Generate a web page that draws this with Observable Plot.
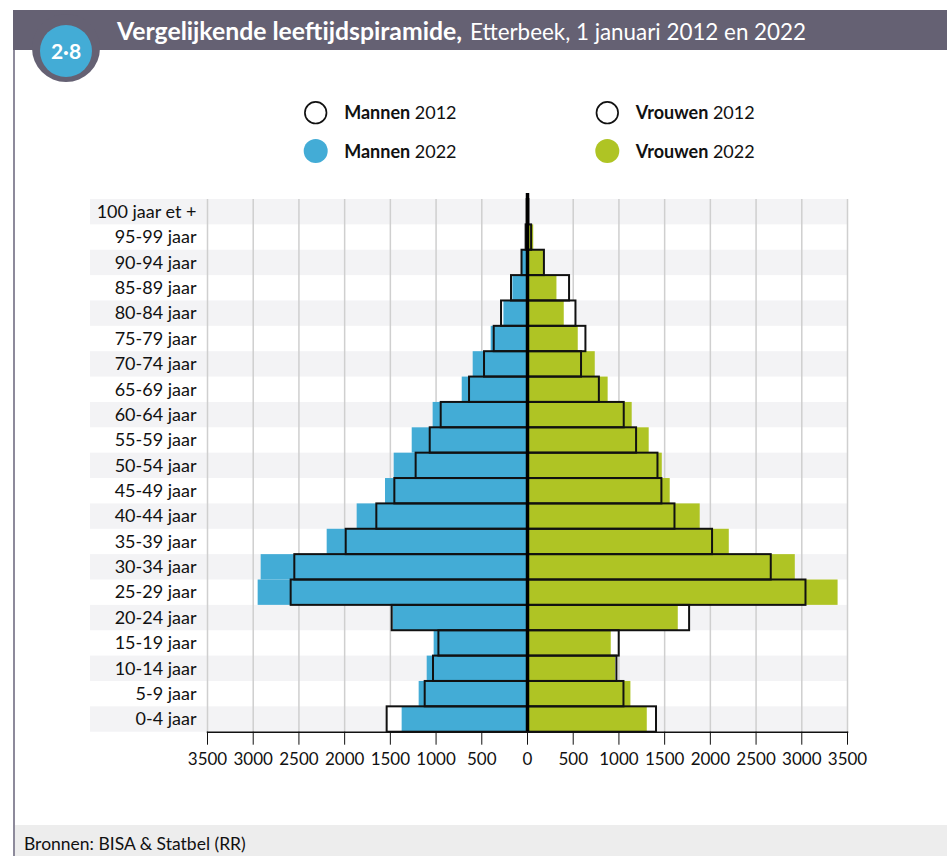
<!DOCTYPE html>
<html>
<head>
<meta charset="utf-8">
<script src="https://cdn.jsdelivr.net/npm/d3@7"></script>
<script src="https://cdn.jsdelivr.net/npm/@observablehq/plot@0.6"></script>
<style>
  html, body { margin: 0; padding: 0; background: #fff; }
  body { width: 947px; height: 856px; overflow: hidden; position: relative; font-family: Lato, "Open Sans", sans-serif; color: #111; }
  #top { position: absolute; left: 0; top: 0; }
  #leftline { position: absolute; left: 13px; top: 10px; width: 2px; height: 846px; background: #8d8a9b; }
  #chart { position: absolute; left: 0; top: 185px; }
  #footer { position: absolute; left: 15px; top: 825px; width: 932px; height: 31px; background: #ededed; }
  #source { position: absolute; left: 24px; top: 833px; font-size: 17.5px; color: #111; white-space: nowrap; }
</style>
</head>
<body>
<div id="leftline"></div>
<svg id="top" width="947" height="180" xmlns="http://www.w3.org/2000/svg">
  <rect x="13" y="10" width="934" height="40" fill="#656173"></rect>
  <circle cx="66" cy="48" r="34" fill="#656173"></circle>
  <circle cx="66" cy="51" r="26" fill="#43acd6"></circle>
  <text x="66" y="58.5" text-anchor="middle" fill="#fff" font-family="Lato, sans-serif" font-weight="700" font-size="21">2·8</text>
  <text x="117" y="39.5" fill="#fff" font-family="Lato, sans-serif" font-weight="700" font-size="24" textLength="345" lengthAdjust="spacingAndGlyphs">Vergelijkende leeftijdspiramide,</text>
  <text x="470" y="39.5" fill="#fff" font-family="Lato, sans-serif" font-weight="400" font-size="24" textLength="336" lengthAdjust="spacingAndGlyphs">Etterbeek, 1 januari 2012 en 2022</text>
  <g id="legend" font-family="Lato, sans-serif" font-size="18" fill="#111"></g>
</svg>
<div id="chart"></div>
<div id="footer"></div>
<div id="source">Bronnen: BISA &amp; Statbel (RR)</div>
<script>
// ---- data ----
const ages = ["100 jaar et +","95-99 jaar","90-94 jaar","85-89 jaar","80-84 jaar","75-79 jaar","70-74 jaar","65-69 jaar","60-64 jaar","55-59 jaar","50-54 jaar","45-49 jaar","40-44 jaar","35-39 jaar","30-34 jaar","25-29 jaar","20-24 jaar","15-19 jaar","10-14 jaar","5-9 jaar","0-4 jaar"];
const men2012   = [3, 15, 60, 175, 284, 364, 470, 634, 944, 1064, 1218, 1451, 1648, 1983, 2545, 2585, 1480, 969, 1028, 1119, 1535];
const men2022   = [3, 15, 55, 160, 258, 397, 594, 714, 1032, 1261, 1458, 1553, 1863, 2191, 2913, 2946, 1470, 1021, 1097, 1185, 1371];
const women2012 = [15, 45, 185, 460, 530, 639, 591, 786, 1058, 1193, 1427, 1470, 1613, 2024, 2666, 3046, 1773, 1003, 978, 1055, 1411];
const women2022 = [15, 68, 175, 322, 402, 555, 741, 882, 1145, 1331, 1474, 1561, 1889, 2207, 2929, 3397, 1649, 916, 963, 1131, 1310];
const xTicks = [-3500,-3000,-2500,-2000,-1500,-1000,-500,0,500,1000,1500,2000,2500,3000,3500];
const legendItems = [
  {name: "Mannen", year: "2012", col: 0, row: 0},
  {name: "Mannen", year: "2022", col: 0, row: 1},
  {name: "Vrouwen", year: "2012", col: 1, row: 0},
  {name: "Vrouwen", year: "2022", col: 1, row: 1}
];

const BLUE = "#43acd6", GREEN = "#afc424";

const rows = ages.map((age, i) => ({
  age,
  m12: -men2012[i], m22: -men2022[i],
  w12: women2012[i], w22: women2022[i]
}));
const stripes = ages.filter((d, i) => i % 2 === 0);
const xMin = xTicks[0], xMax = xTicks[xTicks.length - 1];

// ---- legend ----
const lg = d3.select("#legend");
legendItems.forEach(d => {
  const cx = d.col === 0 ? 315.7 : 607.3;
  const cy = d.row === 0 ? 112.7 : 151;
  const fill = d.year === "2012" ? "#fff" : (d.name === "Mannen" ? BLUE : GREEN);
  lg.append("circle").attr("cx", cx).attr("cy", cy).attr("r", d.year === "2012" ? 10.8 : 12)
    .attr("fill", fill).attr("stroke", d.year === "2012" ? "#111" : "none").attr("stroke-width", 1.7);
  const t = lg.append("text").attr("x", cx + 28.5).attr("y", cy + 6.5);
  t.append("tspan").attr("font-weight", 700).text(d.name);
  t.append("tspan").attr("font-weight", 400).text(" " + d.year);
});

// ---- chart ----
const chart = Plot.plot({
  width: 947,
  height: 595,
  marginTop: 14,
  marginBottom: 48.3,
  marginLeft: 207,
  marginRight: 100,
  style: { fontFamily: "Lato, 'Open Sans', sans-serif", fontSize: "16px", color: "#111", background: "transparent", overflow: "visible" },
  x: { domain: [xMin, xMax], label: null },
  y: { domain: ages, padding: 0, round: false, label: null },
  marks: [
    Plot.barX(stripes, { x1: xMin, x2: xMax, y: d => d, fill: "#f3f3f5", insetLeft: -117 }),
    Plot.gridX(xTicks, { stroke: "#cfcfcf", strokeOpacity: 1, strokeWidth: 1.5 }),
    Plot.barX(rows, { x1: 0, x2: "m12", y: "age", fill: "#fff" }),
    Plot.barX(rows, { x1: 0, x2: "w12", y: "age", fill: "#fff" }),
    Plot.barX(rows, { x1: 0, x2: "m22", y: "age", fill: BLUE }),
    Plot.barX(rows, { x1: 0, x2: "w22", y: "age", fill: GREEN }),
    Plot.barX(rows, { x1: 0, x2: "m12", y: "age", fill: "none", stroke: "#111", strokeWidth: 2 }),
    Plot.barX(rows, { x1: 0, x2: "w12", y: "age", fill: "none", stroke: "#111", strokeWidth: 2 }),
    Plot.ruleX([0], { stroke: "#000", strokeWidth: 3.5, insetTop: -6 }),
    Plot.frame({ anchor: "bottom", stroke: "#111", strokeWidth: 1.5 }),
    Plot.axisX(xTicks, { tickSize: 13, tickPadding: 8, tickFormat: d => String(Math.abs(d)), fontSize: 17, stroke: "#111" }),
    Plot.axisY({ tickSize: 0, tickPadding: 11, fontSize: 18 })
  ]
});
document.getElementById("chart").appendChild(chart);
</script>
</body>
</html>
